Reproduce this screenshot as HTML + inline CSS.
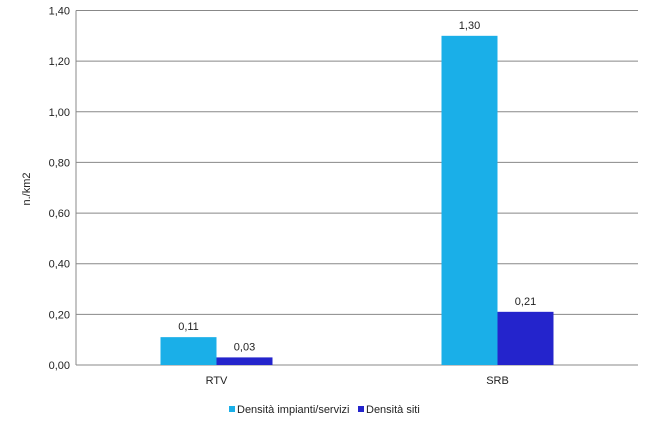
<!DOCTYPE html>
<html><head><meta charset="utf-8"><style>
body{margin:0;background:#fff;font-family:"Liberation Sans",Arial,sans-serif;}
svg text{font-family:"Liberation Sans",Arial,sans-serif;fill:#222;}
</style></head><body>
<svg width="650" height="425">
<g id="grid"></g><g id="bars"></g><g id="labels"></g>
<text transform="translate(30,189) rotate(-90)" text-anchor="middle" font-size="11">n./km2</text>
<g>
<rect x="229" y="406" width="6" height="6" fill="#1AAFE8"/>
<text x="237" y="413" font-size="11">Densità impianti/servizi</text>
<rect x="358" y="406" width="6" height="6" fill="#2424CC"/>
<text x="366" y="413" font-size="11">Densità siti</text>
</g>
</svg>
<script>
const categories=["RTV","SRB"];
const seriesImpianti=[0.11,1.30];
const seriesSiti=[0.03,0.21];
const valueLabelsImpianti=["0,11","1,30"];
const valueLabelsSiti=["0,03","0,21"];
const yTicks=[0,0.2,0.4,0.6,0.8,1.0,1.2,1.4];
const yTickLabels=["0,00","0,20","0,40","0,60","0,80","1,00","1,20","1,40"];
const NS="http://www.w3.org/2000/svg";
const L=76,R=638,T=10.5,B=365,YMAX=1.4;
const y=v=>B-(v/YMAX)*(B-T);
const bw=(R-L)/categories.length;
const x=i=>L+bw*i;
function mk(tag,attrs,parent){const e=document.createElementNS(NS,tag);for(const k in attrs)e.setAttribute(k,attrs[k]);parent.appendChild(e);return e;}
const grid=document.getElementById('grid'),bars=document.getElementById('bars'),labels=document.getElementById('labels');
yTicks.forEach((t,i)=>{
 const ln=mk('line',{x1:L,x2:R,y1:y(t),y2:y(t),stroke:'#888','stroke-width':1},grid);
 
 
 const tx=mk('text',{x:L-6,y:y(t)+4,'text-anchor':'end','font-size':11},labels);
 tx.textContent=yTickLabels[i];
 
 
});
const ax=mk('line',{x1:L,x2:L,y1:T,y2:B,stroke:'#888'},grid);


categories.forEach((c,i)=>{
 const cx=x(i)+bw/2, w=56;
 const b1=mk('rect',{x:cx-w,y:y(seriesImpianti[i]),width:w,height:B-y(seriesImpianti[i]),fill:'#1AAFE8'},bars);
 
 
 const b2=mk('rect',{x:cx,y:y(seriesSiti[i]),width:w,height:B-y(seriesSiti[i]),fill:'#2424CC'},bars);
 
 
 const l1=mk('text',{x:cx-w/2,y:y(seriesImpianti[i])-7,'text-anchor':'middle','font-size':11},labels);
 l1.textContent=valueLabelsImpianti[i];
 
 
 const l2=mk('text',{x:cx+w/2,y:y(seriesSiti[i])-7,'text-anchor':'middle','font-size':11},labels);
 l2.textContent=valueLabelsSiti[i];
 
 
 const cl=mk('text',{x:cx,y:B+19,'text-anchor':'middle','font-size':11},labels);
 cl.textContent=c;
 
 
});
</script>
</body></html>
